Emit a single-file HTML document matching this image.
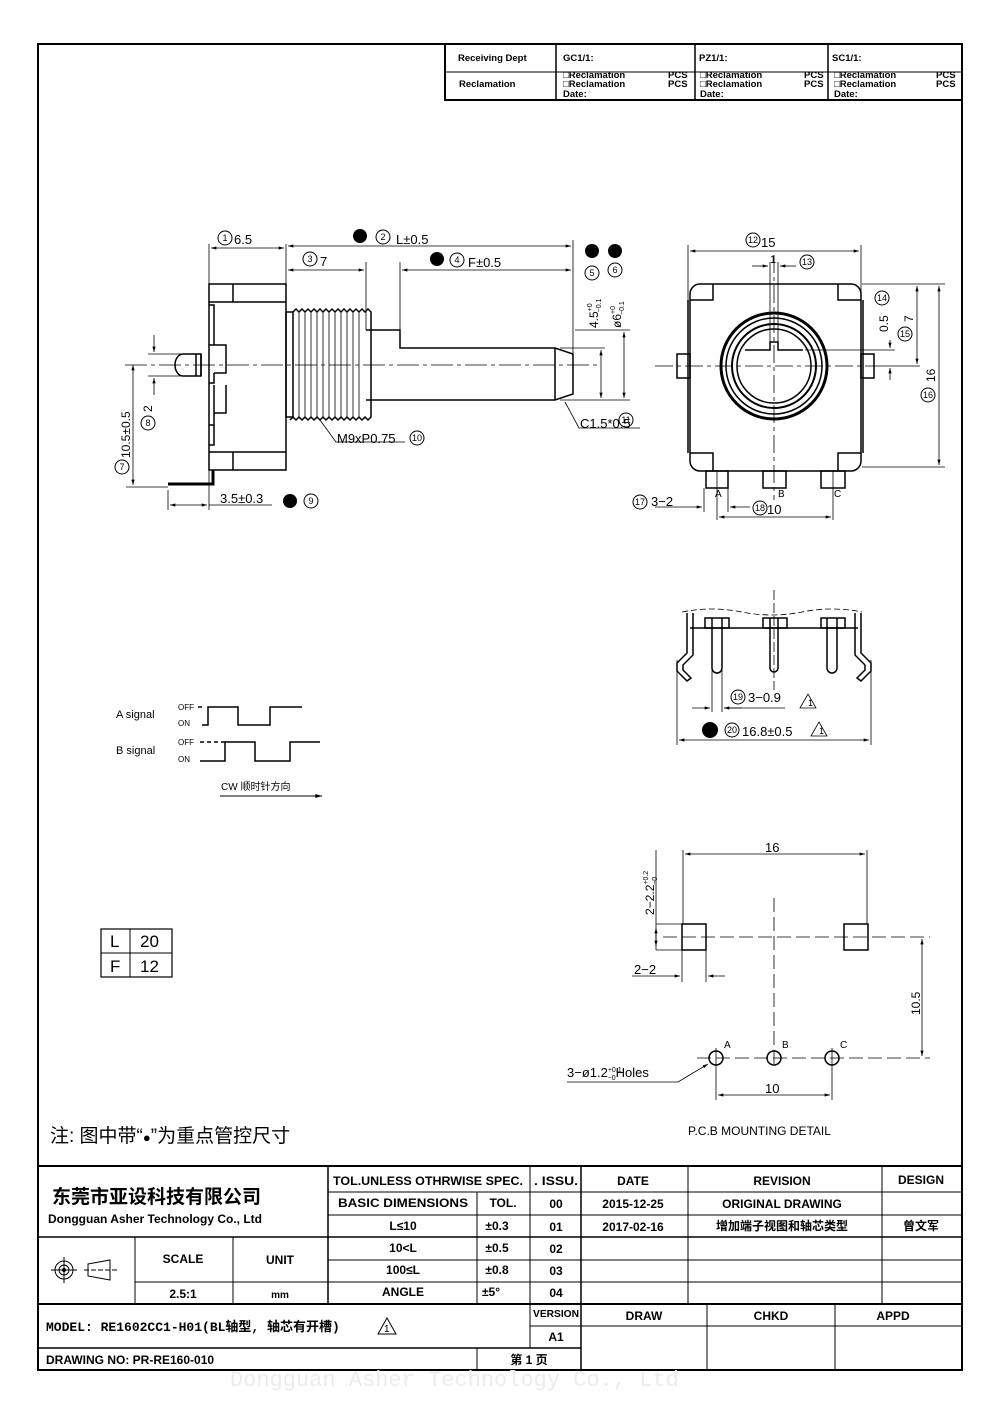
<!DOCTYPE html>
<html><head><meta charset="utf-8"><style>
html,body{margin:0;padding:0;background:#fff}
svg{display:block}
text{font-family:"Liberation Sans","Noto Sans CJK SC",sans-serif;fill:#000}
.m{font-family:"Liberation Mono","Noto Sans CJK SC",monospace}
</style></head><body>
<svg width="1000" height="1415" viewBox="0 0 1000 1415" xmlns="http://www.w3.org/2000/svg">
<defs>
<marker id="a" viewBox="0 0 10 6" refX="10" refY="3" markerWidth="8" markerHeight="4" orient="auto-start-reverse"><path d="M0,0L10,3L0,6z" fill="#000"/></marker>
</defs>
<g fill="none" stroke="#000">
<rect x="38" y="44" width="924" height="1326" stroke-width="2"/>
<rect x="445" y="44" width="517" height="56" stroke-width="2"/>
<line x1="445" y1="72" x2="962" y2="72"/>
<line x1="556" y1="44" x2="556" y2="100" stroke-width="1.5"/>
<line x1="695" y1="44" x2="695" y2="100" stroke-width="1.5"/>
<line x1="828" y1="44" x2="828" y2="100" stroke-width="1.5"/>

<line x1="38" y1="1166" x2="962" y2="1166" stroke-width="2"/>
<line x1="328" y1="1192" x2="962" y2="1192"/>
<line x1="328" y1="1215" x2="962" y2="1215"/>
<line x1="38" y1="1237" x2="962" y2="1237" stroke-width="1.5"/>
<line x1="328" y1="1260" x2="962" y2="1260"/>
<line x1="135" y1="1282" x2="962" y2="1282"/>
<line x1="38" y1="1304" x2="962" y2="1304" stroke-width="2"/>
<line x1="530" y1="1326" x2="962" y2="1326"/>
<line x1="38" y1="1348" x2="581" y2="1348" stroke-width="1.5"/>
<line x1="135" y1="1237" x2="135" y2="1304"/>
<line x1="233" y1="1237" x2="233" y2="1304"/>
<line x1="328" y1="1166" x2="328" y2="1304" stroke-width="1.5"/>
<line x1="477" y1="1192" x2="477" y2="1304"/>
<line x1="477" y1="1348" x2="477" y2="1370"/>
<line x1="530" y1="1166" x2="530" y2="1348"/>
<line x1="581" y1="1166" x2="581" y2="1370" stroke-width="1.5"/>
<line x1="688" y1="1166" x2="688" y2="1304"/>
<line x1="882" y1="1166" x2="882" y2="1304"/>
<line x1="707" y1="1304" x2="707" y2="1370"/>
<line x1="835" y1="1304" x2="835" y2="1370"/>
<circle cx="64" cy="1270" r="9"/><circle cx="64" cy="1270" r="5"/>
<line x1="51" y1="1270" x2="77" y2="1270"/><line x1="64" y1="1257" x2="64" y2="1283"/>
<path d="M88,1264L110,1260L110,1280L88,1276z"/><line x1="84" y1="1270" x2="118" y2="1270" stroke-dasharray="5,2"/>

<g stroke-width="1.5">
<rect x="209" y="284" width="77" height="186"/>
<line x1="209" y1="302" x2="286" y2="302"/><line x1="209" y1="452" x2="286" y2="452"/>
<line x1="233" y1="284" x2="233" y2="302"/><line x1="233" y1="452" x2="233" y2="470"/>
<path d="M209,305h5v40h-5M214,345h12v28h-12M214,373v10h-5"/>
<path d="M209,425h5v-40M214,413h12v-28M214,425v20h-5"/>
<path d="M201,354h-18a8,11 0 0 0 0,22h18z"/>
<line x1="201" y1="354" x2="201" y2="376"/><line x1="196" y1="354" x2="196" y2="376"/>
<rect x="286" y="312" width="7" height="105"/>
<path d="M293,312 l3,-3 l3,3 l3,-3 l3,3 l3,-3 l3,3 l3,-3 l3,3 l3,-3 l3,3 l3,-3 l3,3 l3,-3 l3,3 l3,-3 l3,3 l3,-3 l3,3 l3,-3 l3,3 l3,-3 l3,3 l3,-3 l3,3 l3,-3 l3,3 v105 l-3,3 l-3,-3 l-3,3 l-3,-3 l-3,3 l-3,-3 l-3,3 l-3,-3 l-3,3 l-3,-3 l-3,3 l-3,-3 l-3,3 l-3,-3 l-3,3 l-3,-3 l-3,3 l-3,-3 l-3,3 l-3,-3 l-3,3 l-3,-3 l-3,3 l-3,-3 l-3,3 l-3,-3 l-3,3"/>
<g stroke-width="0.8"><path d="M299,312v105M305,312v105M311,312v105M317,312v105M323,312v105M329,312v105M335,312v105M341,312v105M347,312v105M353,312v105M359,312v105"/></g>
<path d="M366,330h34v18h155l18,6v40l-18,6h-189"/>
<line x1="555" y1="348" x2="555" y2="400"/>
<path d="M213,470v14h-45" stroke-width="3"/>
</g>
<line x1="125" y1="365" x2="600" y2="365" stroke-dasharray="22,4,4,4" stroke-width="0.8"/>
<g stroke-width="0.8">
<line x1="209" y1="244" x2="209" y2="284"/><line x1="286" y1="244" x2="286" y2="312"/>
<line x1="573" y1="240" x2="573" y2="355"/><line x1="366" y1="262" x2="366" y2="330"/><line x1="400" y1="262" x2="400" y2="330"/>
<line x1="211" y1="248" x2="284" y2="248" marker-start="url(#a)" marker-end="url(#a)"/>
<line x1="288" y1="246" x2="571" y2="246" marker-start="url(#a)" marker-end="url(#a)"/>
<line x1="288" y1="270" x2="364" y2="270" marker-start="url(#a)" marker-end="url(#a)"/>
<line x1="402" y1="270" x2="571" y2="270" marker-start="url(#a)" marker-end="url(#a)"/>
<line x1="560" y1="348" x2="605" y2="348"/><line x1="560" y1="400" x2="630" y2="400"/><line x1="575" y1="330" x2="630" y2="330"/>
<line x1="601" y1="350" x2="601" y2="398" marker-start="url(#a)" marker-end="url(#a)"/>
<line x1="624" y1="332" x2="624" y2="398" marker-start="url(#a)" marker-end="url(#a)"/>
<line x1="133" y1="365" x2="133" y2="485" marker-start="url(#a)" marker-end="url(#a)"/>
<line x1="126" y1="487" x2="168" y2="487"/>
<line x1="154" y1="335" x2="154" y2="352" marker-end="url(#a)"/><line x1="154" y1="395" x2="154" y2="378" marker-end="url(#a)"/>
<line x1="148" y1="354" x2="183" y2="354"/><line x1="148" y1="376" x2="183" y2="376"/>
<line x1="168" y1="490" x2="168" y2="510"/><line x1="209" y1="470" x2="209" y2="510"/>
<line x1="170" y1="505" x2="207" y2="505" marker-start="url(#a)" marker-end="url(#a)"/>
<line x1="209" y1="505" x2="272" y2="505"/>
<path d="M320,420L336,442H405"/><path d="M565,402L579,428H640"/>
</g>
<g stroke-width="1.5">
<path d="M700,284h151a10,10 0 0 1 10,10v167a10,10 0 0 1 -10,10h-151a10,10 0 0 1 -10,-10v-167a10,10 0 0 1 10,-10z"/>
<path d="M690,300h23v-16M861,300h-23v-16M690,453h23v18M861,453h-23v18"/>
<line x1="688" y1="300" x2="688" y2="453"/><line x1="863" y1="300" x2="863" y2="453"/>
<rect x="677" y="354" width="13" height="24"/><rect x="861" y="354" width="13" height="24"/>
<circle cx="774" cy="366" r="53" stroke-width="3"/><circle cx="774" cy="366" r="48"/><circle cx="774" cy="366" r="42" stroke-width="2"/><circle cx="774" cy="366" r="37"/>
<path d="M745,350h25v-8h8v8h25"/>
<line x1="770" y1="262" x2="770" y2="350" stroke-width="0.8"/><line x1="778" y1="262" x2="778" y2="350" stroke-width="0.8"/>
<rect x="706" y="471" width="22" height="17"/><rect x="763" y="471" width="23" height="17"/><rect x="821" y="471" width="24" height="17"/>
</g>
<g stroke-width="0.8">
<line x1="655" y1="366" x2="880" y2="366" stroke-dasharray="18,4,4,4"/>
<line x1="774" y1="255" x2="774" y2="500" stroke-dasharray="18,4,4,4"/>
<line x1="688" y1="245" x2="688" y2="300"/><line x1="861" y1="245" x2="861" y2="300"/>
<line x1="690" y1="251" x2="859" y2="251" marker-start="url(#a)" marker-end="url(#a)"/>
<line x1="752" y1="266" x2="768" y2="266" marker-end="url(#a)"/><line x1="796" y1="266" x2="780" y2="266" marker-end="url(#a)"/>
<line x1="862" y1="284" x2="945" y2="284"/><line x1="862" y1="467" x2="945" y2="467"/><line x1="880" y1="366" x2="920" y2="366"/>
<line x1="917" y1="286" x2="917" y2="364" marker-start="url(#a)" marker-end="url(#a)"/>
<line x1="939" y1="286" x2="939" y2="465" marker-start="url(#a)" marker-end="url(#a)"/>
<line x1="805" y1="350" x2="895" y2="350"/><line x1="890" y1="340" x2="890" y2="348" marker-end="url(#a)"/><line x1="890" y1="380" x2="890" y2="368" marker-end="url(#a)"/>
<line x1="717" y1="471" x2="717" y2="520"/><line x1="833" y1="471" x2="833" y2="520"/>
<line x1="719" y1="517" x2="831" y2="517" marker-start="url(#a)" marker-end="url(#a)"/>
<line x1="655" y1="507" x2="702" y2="507" marker-end="url(#a)"/><line x1="750" y1="507" x2="730" y2="507" marker-end="url(#a)"/>
<line x1="704" y1="488" x2="704" y2="512"/><line x1="728" y1="488" x2="728" y2="512"/>
</g>
<path d="M682,612 q30,-6 60,0 t60,0 t60,0" stroke-dasharray="6,3" stroke-width="0.8"/>
<g stroke-width="1.5">
<line x1="690" y1="628" x2="858" y2="628"/>
<rect x="705" y="618" width="24" height="10"/><rect x="763" y="618" width="24" height="10"/><rect x="821" y="618" width="24" height="10"/>
<path d="M712,618v50a5,5 0 0 0 10,0v-50M770,618v50a4,4 0 0 0 8,0v-50M827,618v50a5,5 0 0 0 10,0v-50"/>
<path d="M687,613v40l-10,10v8l10,10l4,-3l-8,-8v-5l10,-10v-42"/>
<path d="M861,613v40l10,10v8l-10,10l-4,-3l8,-8v-5l-10,-10v-42"/>
</g>
<g stroke-width="0.8">
<line x1="774" y1="590" x2="774" y2="690" stroke-dasharray="10,3"/>
<line x1="712" y1="670" x2="712" y2="712"/><line x1="722" y1="670" x2="722" y2="712"/>
<line x1="692" y1="708" x2="710" y2="708" marker-end="url(#a)"/><line x1="742" y1="708" x2="724" y2="708" marker-end="url(#a)"/>
<line x1="724" y1="708" x2="785" y2="708"/>
<line x1="677" y1="660" x2="677" y2="745"/><line x1="871" y1="660" x2="871" y2="745"/>
<line x1="679" y1="740" x2="869" y2="740" marker-start="url(#a)" marker-end="url(#a)"/>
<path d="M800,708l8,-14l8,14z"/><path d="M811,736l8,-14l8,14z"/>
</g>
<g stroke-width="1.5">
<rect x="682" y="924" width="24" height="26"/><rect x="844" y="924" width="24" height="26"/>
<circle cx="716" cy="1058" r="7"/><circle cx="774" cy="1058" r="7"/><circle cx="832" cy="1058" r="7"/>
</g>
<g stroke-width="0.8">
<line x1="663" y1="937" x2="930" y2="937" stroke-dasharray="14,5"/>
<line x1="774" y1="898" x2="774" y2="1068" stroke-dasharray="14,5"/>
<line x1="697" y1="1058" x2="930" y2="1058" stroke-dasharray="14,5"/>
<line x1="716" y1="1048" x2="716" y2="1100"/><line x1="832" y1="1048" x2="832" y2="1100"/>
<line x1="718" y1="1095" x2="830" y2="1095" marker-start="url(#a)" marker-end="url(#a)"/>
<line x1="683" y1="850" x2="683" y2="924"/><line x1="867" y1="850" x2="867" y2="924"/>
<line x1="685" y1="854" x2="865" y2="854" marker-start="url(#a)" marker-end="url(#a)"/>
<line x1="922" y1="939" x2="922" y2="1056" marker-start="url(#a)" marker-end="url(#a)"/>
<line x1="656" y1="924" x2="682" y2="924"/><line x1="656" y1="950" x2="682" y2="950"/>
<line x1="656" y1="850" x2="656" y2="950"/>
<line x1="656" y1="928" x2="656" y2="946" marker-start="url(#a)" marker-end="url(#a)"/>
<line x1="682" y1="950" x2="682" y2="982"/><line x1="706" y1="950" x2="706" y2="982"/>
<line x1="632" y1="976" x2="680" y2="976" marker-end="url(#a)"/><line x1="725" y1="976" x2="708" y2="976" marker-end="url(#a)"/>
<path d="M567,1082H678L708,1064" marker-end="url(#a)"/>
</g>
<g stroke-width="1.5">
<path d="M202,725h6v-18h30v18h32v-18h32"/>
<path d="M200,761h25v-19h30v19h35v-19h30"/>
<line x1="200" y1="742" x2="225" y2="742" stroke-dasharray="4,3"/>
<line x1="198" y1="707" x2="202" y2="707"/>
<line x1="220" y1="796" x2="322" y2="796" marker-end="url(#a)" stroke-width="1"/>
</g>
<rect x="101" y="929" width="71" height="48" stroke-width="1.2"/>
<line x1="101" y1="953" x2="172" y2="953"/><line x1="130" y1="929" x2="130" y2="977"/>
</g>

<g fill="#000">
<circle cx="360" cy="236" r="7"/><circle cx="437" cy="259" r="7"/><circle cx="592" cy="251" r="7"/><circle cx="615" cy="251" r="7"/><circle cx="290" cy="501" r="7"/><circle cx="710" cy="730" r="8"/>
<circle cx="64" cy="1270" r="2"/>
</g>
<g fill="none" stroke="#000" stroke-width="1">
<circle cx="225" cy="238" r="7"/><circle cx="383" cy="237" r="7"/><circle cx="310" cy="259" r="7"/><circle cx="457" cy="260" r="7"/>
<circle cx="592" cy="273" r="7"/><circle cx="615" cy="270" r="7"/><circle cx="122" cy="467" r="7"/><circle cx="148" cy="423" r="7"/>
<circle cx="311" cy="501" r="7"/><circle cx="417" cy="438" r="7"/><circle cx="626" cy="420" r="7"/>
<circle cx="753" cy="240" r="7"/><circle cx="807" cy="262" r="7"/><circle cx="882" cy="298" r="7"/><circle cx="905" cy="334" r="7"/><circle cx="928" cy="395" r="7"/>
<circle cx="640" cy="502" r="7"/><circle cx="760" cy="508" r="7"/><circle cx="738" cy="697" r="7"/><circle cx="732" cy="730" r="7"/>
</g>
<g font-size="9" text-anchor="middle">
<text x="225" y="241">1</text><text x="383" y="240">2</text><text x="310" y="262">3</text><text x="457" y="263">4</text>
<text x="592" y="276">5</text><text x="615" y="273">6</text><text x="122" y="470">7</text><text x="148" y="426">8</text>
<text x="311" y="504">9</text><text x="417" y="441">10</text><text x="626" y="423">11</text>
<text x="753" y="243">12</text><text x="807" y="265">13</text><text x="882" y="301">14</text><text x="905" y="337">15</text><text x="928" y="398">16</text>
<text x="640" y="505">17</text><text x="760" y="511">18</text><text x="738" y="700">19</text><text x="732" y="733">20</text>
</g>
<g font-size="13">
<text x="234" y="244">6.5</text><text x="396" y="244">L±0.5</text><text x="320" y="266">7</text><text x="468" y="267">F±0.5</text>
<text x="580" y="428">C1.5*0.5</text><text x="337" y="443">M9xP0.75</text><text x="220" y="503">3.5±0.3</text>
<text x="761" y="247">15</text><text x="770" y="263" font-size="11">1</text>
<text x="651" y="506">3−2</text><text x="767" y="514">10</text>
<text x="748" y="702">3−0.9</text><text x="742" y="736">16.8±0.5</text>
<text x="765" y="852">16</text><text x="765" y="1093">10</text><text x="634" y="974">2−2</text>
<text x="567" y="1077">3−ø1.2<tspan font-size="7" dy="-5">+0.1</tspan><tspan font-size="7" dx="-14" dy="8">−0</tspan><tspan dy="-3">Holes</tspan></text>
<text x="688" y="1135" font-size="12">P.C.B MOUNTING DETAIL</text>
</g>
<g font-size="12">
<text transform="translate(598,328) rotate(-90)">4.5<tspan font-size="7" dy="-6">+0</tspan><tspan font-size="7" dx="-9" dy="9">−0.1</tspan></text>
<text transform="translate(621,328) rotate(-90)">ø6<tspan font-size="7" dy="-6">+0</tspan><tspan font-size="7" dx="-9" dy="9">−0.1</tspan></text>
<text transform="translate(130,458) rotate(-90)">10.5±0.5</text>
<text transform="translate(152,412) rotate(-90)">2</text>
<text transform="translate(888,332) rotate(-90)">0.5</text>
<text transform="translate(913,322) rotate(-90)">7</text>
<text transform="translate(935,382) rotate(-90)">16</text>
<text transform="translate(920,1015) rotate(-90)">10.5</text>
<text transform="translate(654,915) rotate(-90)">2−2.2<tspan font-size="7" dy="-6">+0.2</tspan><tspan font-size="7" dx="-14" dy="9">−0</tspan></text>
</g>
<g font-size="10" font-family="Liberation Serif,serif">
<text x="715" y="497">A</text><text x="778" y="497">B</text><text x="834" y="497">C</text>
<text x="724" y="1048">A</text><text x="782" y="1048">B</text><text x="840" y="1048">C</text>
</g>
<g><text x="808" y="706" font-size="9">1</text><text x="819" y="734" font-size="9">1</text></g>
<g font-family="Liberation Serif,'Noto Serif CJK SC',serif" font-size="11">
<text x="116" y="718">A signal</text><text x="116" y="754">B signal</text>
<text x="178" y="710" font-size="8">OFF</text><text x="178" y="726" font-size="8">ON</text>
<text x="178" y="745" font-size="8">OFF</text><text x="178" y="762" font-size="8">ON</text>
<text x="221" y="790" font-size="10">CW 顺时针方向</text>
</g>
<g font-size="17"><text x="110" y="947">L</text><text x="140" y="947">20</text><text x="110" y="972">F</text><text x="140" y="972">12</text></g>
<text x="50" y="1142" font-size="19" font-family="'Noto Sans CJK SC',sans-serif">注: 图中带“<tspan font-size="13">●</tspan>”为重点管控尺寸</text>

<g font-size="9.5" font-family="Liberation Serif,serif" font-weight="bold">
<text x="458" y="61">Receiving Dept</text><text x="459" y="87">Reclamation</text>
<text x="563" y="61">GC1/1:</text><text x="699" y="61">PZ1/1:</text><text x="832" y="61">SC1/1:</text>
<text x="563" y="78">□Reclamation</text><text x="563" y="87">□Reclamation</text><text x="563" y="97">Date:</text>
<text x="668" y="78">PCS</text><text x="668" y="87">PCS</text>
<text x="700" y="78">□Reclamation</text><text x="700" y="87">□Reclamation</text><text x="700" y="97">Date:</text>
<text x="804" y="78">PCS</text><text x="804" y="87">PCS</text>
<text x="834" y="78">□Reclamation</text><text x="834" y="87">□Reclamation</text><text x="834" y="97">Date:</text>
<text x="936" y="78">PCS</text><text x="936" y="87">PCS</text>
</g>
<text x="52" y="1203" font-size="19" font-weight="bold" font-family="'Noto Sans CJK SC',sans-serif">东莞市亚设科技有限公司</text>
<text x="48" y="1223" font-size="12" font-weight="bold">Dongguan Asher Technology Co., Ltd</text>
<g font-size="12" font-weight="bold" text-anchor="middle" font-family="'Liberation Sans','Noto Sans CJK SC',sans-serif">
<text x="428" y="1185" textLength="190" lengthAdjust="spacingAndGlyphs">TOL.UNLESS OTHRWISE SPEC.</text><text x="556" y="1185" textLength="44" lengthAdjust="spacingAndGlyphs">. ISSU.</text><text x="633" y="1185">DATE</text><text x="782" y="1185">REVISION</text><text x="921" y="1184">DESIGN</text>
<text x="403" y="1207" textLength="130" lengthAdjust="spacingAndGlyphs">BASIC DIMENSIONS</text><text x="503" y="1207">TOL.</text><text x="556" y="1208">00</text><text x="633" y="1208">2015-12-25</text><text x="782" y="1208">ORIGINAL    DRAWING</text>
<text x="403" y="1230">L≤10</text><text x="497" y="1230">±0.3</text><text x="556" y="1231">01</text><text x="633" y="1231">2017-02-16</text><text x="782" y="1230">增加端子视图和轴芯类型</text><text x="921" y="1230">曾文军</text>
<text x="403" y="1252">10&lt;L</text><text x="497" y="1252">±0.5</text><text x="556" y="1253">02</text>
<text x="403" y="1274">100≤L</text><text x="497" y="1274">±0.8</text><text x="556" y="1275">03</text>
<text x="403" y="1296">ANGLE</text><text x="491" y="1296">±5°</text><text x="556" y="1297">04</text>
<text x="183" y="1263">SCALE</text><text x="280" y="1264">UNIT</text><text x="183" y="1298">2.5:1</text><text x="280" y="1298" font-size="10">mm</text>
<text x="556" y="1317" font-size="10" textLength="46" lengthAdjust="spacingAndGlyphs">VERSION</text><text x="556" y="1341">A1</text>
<text x="644" y="1320">DRAW</text><text x="771" y="1320">CHKD</text><text x="893" y="1320">APPD</text>
<text x="529" y="1364">第  1  页</text>
</g>
<text x="46" y="1331" font-size="13" font-weight="bold" class="m">MODEL:  RE1602CC1-H01(BL轴型, 轴芯有开槽)</text>
<path d="M378,1334l9,-16l9,16z" fill="none" stroke="#000"/><text x="384" y="1332" font-size="10">1</text>
<text x="46" y="1364" font-size="12" font-weight="bold">DRAWING NO:  PR-RE160-010</text>
<text x="230" y="1386" font-size="22" class="m" style="fill:#ececec">Dongguan Asher Technology Co., Ltd</text>
</svg>
</body></html>
